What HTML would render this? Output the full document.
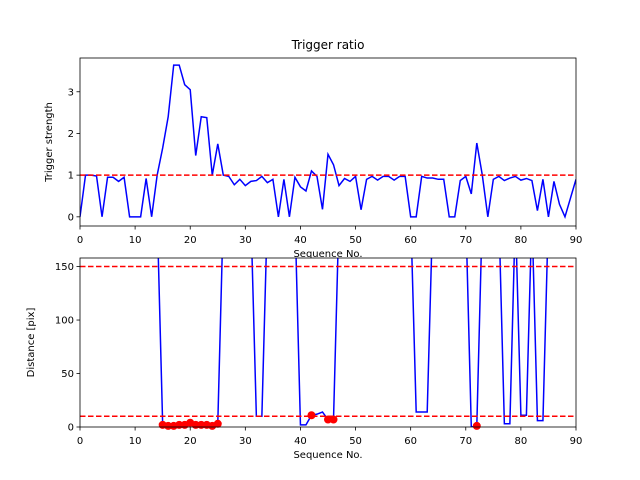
<!DOCTYPE html>
<html><head><meta charset="utf-8"><style>body{margin:0;background:#fff}svg{display:block;font-family:"DejaVu Sans","Liberation Sans",sans-serif}</style></head>
<body>
<svg id="fig" width="640" height="480" xmlns="http://www.w3.org/2000/svg"></svg>
<script>
const ratioValues=[0,1,1,0.98,0,0.95,0.95,0.85,0.95,0,0,0,0.92,0,1,1.65,2.4,3.64,3.64,3.17,3.05,1.47,2.4,2.38,1,1.75,1,0.97,0.77,0.9,0.75,0.85,0.87,0.97,0.82,0.9,0,0.9,0,0.95,0.72,0.62,1.1,0.97,0.18,1.5,1.25,0.75,0.92,0.85,0.97,0.17,0.9,0.97,0.88,0.97,0.97,0.88,0.97,0.97,0,0,0.97,0.93,0.93,0.9,0.9,0,0,0.87,0.97,0.55,1.77,1,0,0.9,0.97,0.87,0.93,0.97,0.88,0.92,0.87,0.15,0.9,0,0.85,0.3,0,0.45,0.9];
const distValues=[200,200,200,200,200,200,200,200,200,200,200,200,200,200,200,2,1,1,2,2,4,2,2,2,1,3,200,200,200,200,200,200,10,10,200,200,200,200,200,200,2,2,11,12,14,7,7,200,200,200,200,200,200,200,200,200,200,200,200,200,200,14,14,14,200,200,200,200,200,200,200,0,1,200,200,200,200,3,3,200,11,11,200,6,6,200,200,200,200,200,200];
const dotIdx=[15,16,17,18,19,20,21,22,23,24,25,42,45,46,72];
const xTicks=[0,10,20,30,40,50,60,70,80,90];
const ratioTicks=[0,1,2,3];
const distTicks=[0,50,100,150];
const ratioThreshold=1, distHigh=150, distLow=10;
const NS="http://www.w3.org/2000/svg", svg=document.getElementById('fig');
function mk(t,a,p){const e=document.createElementNS(NS,t);for(const k in a)e.setAttribute(k,a[k]);(p||svg).appendChild(e);return e;}
const L=80,R=576;
const sx=v=>L+(v-0)/90*(R-L);
function axes(top,bot,ymin,ymax,vals,yt,thr,name,ylabel,dots){
  const sy=v=>bot-(v-ymin)/(ymax-ymin)*(bot-top);
  const bg=mk('rect',{x:L,y:top,width:R-L,height:bot-top,fill:'#fff'});
  
  const g=mk('g',{});
  const cid='c'+name;const cp=mk('clipPath',{id:cid});mk('rect',{x:L,y:top,width:R-L,height:bot-top},cp);
  const gc=mk('g',{'clip-path':'url(#'+cid+')'},g);
  const pts=vals.map((v,i)=>sx(i).toFixed(2)+','+sy(v).toFixed(2)).join(' ');
  const ln=mk('polyline',{points:pts,fill:'none',stroke:'#0000ff','stroke-width':1.5},gc);
  
  thr.forEach(t=>{const h=mk('line',{x1:L,x2:R,y1:sy(t),y2:sy(t),stroke:'#ff0000','stroke-width':1.5,'stroke-dasharray':'5.5,2.5'},gc);
    });
  (dots||[]).forEach(i=>{const c=mk('circle',{cx:sx(i),cy:sy(vals[i]),r:4,fill:'#ff0000'},g);
    });
  const fr=mk('rect',{x:L,y:top,width:R-L,height:bot-top,fill:'none',stroke:'#000','stroke-width':0.8});
  
  xTicks.forEach(t=>{mk('line',{x1:sx(t),x2:sx(t),y1:bot,y2:bot+3.5,stroke:'#000','stroke-width':0.8});
    const tx=mk('text',{x:sx(t),y:bot+17,'font-size':10,'text-anchor':'middle'});tx.textContent=t;
    });
  yt.forEach(t=>{mk('line',{x1:L-3.5,x2:L,y1:sy(t),y2:sy(t),stroke:'#000','stroke-width':0.8});
    const tx=mk('text',{x:L-6,y:sy(t)+3.5,'font-size':10,'text-anchor':'end'});tx.textContent=t;
    });
  const yl=mk('text',{x:0,y:0,'font-size':10,'text-anchor':'middle',transform:`translate(${name==='ratio'?52:34},${(top+bot)/2}) rotate(-90)`});
  yl.textContent=ylabel;
  const xl=mk('text',{x:(L+R)/2,y:bot+31,'font-size':10,'text-anchor':'middle'});xl.textContent='Sequence No.';
  
}
const t=mk('text',{x:328,y:49,'font-size':12,'text-anchor':'middle'});t.textContent='Trigger ratio';

axes(58,226,-0.22,3.81,ratioValues,ratioTicks,[ratioThreshold],'ratio','Trigger strength');
axes(258,427,0,158,distValues,distTicks,[distHigh,distLow],'distance','Distance [pix]',dotIdx);
</script>
</body></html>
